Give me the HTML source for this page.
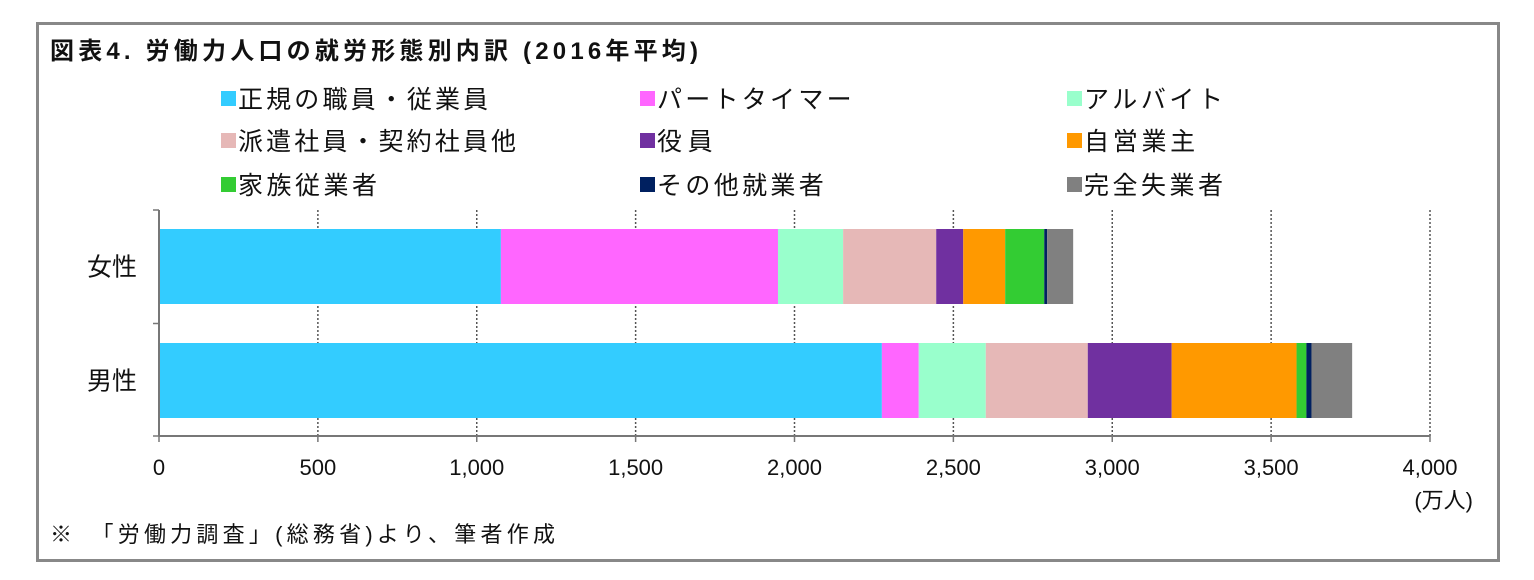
<!DOCTYPE html>
<html><head><meta charset="utf-8"><style>
body{margin:0;background:#fff;width:1534px;height:580px;overflow:hidden;font-family:"Liberation Sans","Noto Sans CJK JP",sans-serif;}
#frame{position:absolute;left:36px;top:22px;width:1458px;height:534px;border:3px solid #888;}
</style></head><body>
<div id="frame"></div>
<svg width="1534" height="580" style="position:absolute;left:0;top:0">
<text x="50" y="59" font-size="24" font-weight="bold" fill="#111" textLength="648" lengthAdjust="spacing" font-family="Liberation Sans,Noto Sans CJK JP,sans-serif">図表4.  労働力人口の就労形態別内訳 (2016年平均)</text>
<g id="legend"></g>
<g id="plot"></g>
<text x="1473" y="508" font-size="22" text-anchor="end" fill="#111" font-family="Liberation Sans,Noto Sans CJK JP,sans-serif">(万人)</text>
<text x="50" y="542" font-size="22" fill="#111" textLength="505" lengthAdjust="spacing" font-family="Liberation Sans,Noto Sans CJK JP,sans-serif">※　「労働力調査」(総務省)より、筆者作成</text>
</svg>
<script>
const categories=["女性","男性"];
const seriesNames=["正規の職員・従業員","パートタイマー","アルバイト","派遣社員・契約社員他","役員","自営業主","家族従業者","その他就業者","完全失業者"];
const seriesColors=["#33ccff","#ff66ff","#99ffcc","#e6b8b7","#7030a0","#ff9900","#33cc33","#002060","#808080"];
const female=[1076,872,205,293,85,132,123,9,82];
const male=[2275,116,211,321,264,393,31,16,128];
const xTicks=[0,500,1000,1500,2000,2500,3000,3500,4000];
const xTickLabels=["0","500","1,000","1,500","2,000","2,500","3,000","3,500","4,000"];
const NS="http://www.w3.org/2000/svg";
const x0=159,x1=1430,yTop=210,yBot=436;
const xs=v=>x0+v*(x1-x0)/4000;
function mk(t,a,p){const e=document.createElementNS(NS,t);for(const k in a)e.setAttribute(k,a[k]);p.appendChild(e);return e;}
const plot=document.getElementById('plot');
const font="Liberation Sans,Noto Sans CJK JP,sans-serif";
xTicks.forEach((t,i)=>{
  if(i>0){const g=mk('line',{x1:xs(t),x2:xs(t),y1:yTop,y2:yBot,stroke:'#555','stroke-width':1.5,'stroke-dasharray':'2,2'},plot);
  
  }
  const tk=mk('line',{x1:xs(t),x2:xs(t),y1:yBot,y2:yBot+6,stroke:'#777','stroke-width':1.5},plot);
  
  
  const tx=mk('text',{x:xs(t),y:475,'font-size':22,'text-anchor':'middle',fill:'#111','font-family':font},plot);
  tx.textContent=xTickLabels[i];
  
  
});
const data=[female,male];
const barH=75, centers=[266.5,380.5];
data.forEach((row,r)=>{
  let acc=0;
  row.forEach((v,i)=>{
    const b=mk('rect',{x:xs(acc),y:centers[r]-barH/2,width:xs(acc+v)-xs(acc),height:barH,fill:seriesColors[i]},plot);
    
    
    acc+=v;
  });
  const l=mk('text',{x:137,y:centers[r]+9,'font-size':25,'text-anchor':'end',fill:'#111','font-family':font},plot);
  l.textContent=categories[r];
  
  
});
const ax=mk('line',{x1:x0,x2:x0,y1:yTop,y2:yBot,stroke:'#777','stroke-width':2},plot);


[yTop,323.5,yBot].forEach(y=>{const t=mk('line',{x1:x0-6,x2:x0,y1:y,y2:y,stroke:'#777','stroke-width':1.5},plot);

});
const xa=mk('line',{x1:x0,x2:x1,y1:yBot,y2:yBot,stroke:'#777','stroke-width':2},plot);


const leg=document.getElementById('legend');
const lx=[221,640,1067],ly=[99,141,185];
seriesNames.forEach((n,i)=>{
  const c=i%3,r=Math.floor(i/3);
  const s=mk('rect',{x:lx[c],y:ly[r]-8,width:15,height:15,fill:seriesColors[i]},leg);
  
  
  const t=mk('text',{x:lx[c]+17,y:ly[r]+9,'font-size':25,fill:'#111','font-family':font,textLength:n.length*27.8,lengthAdjust:'spacing'},leg);
  t.textContent=n;
  
  
});
</script>
</body></html>
